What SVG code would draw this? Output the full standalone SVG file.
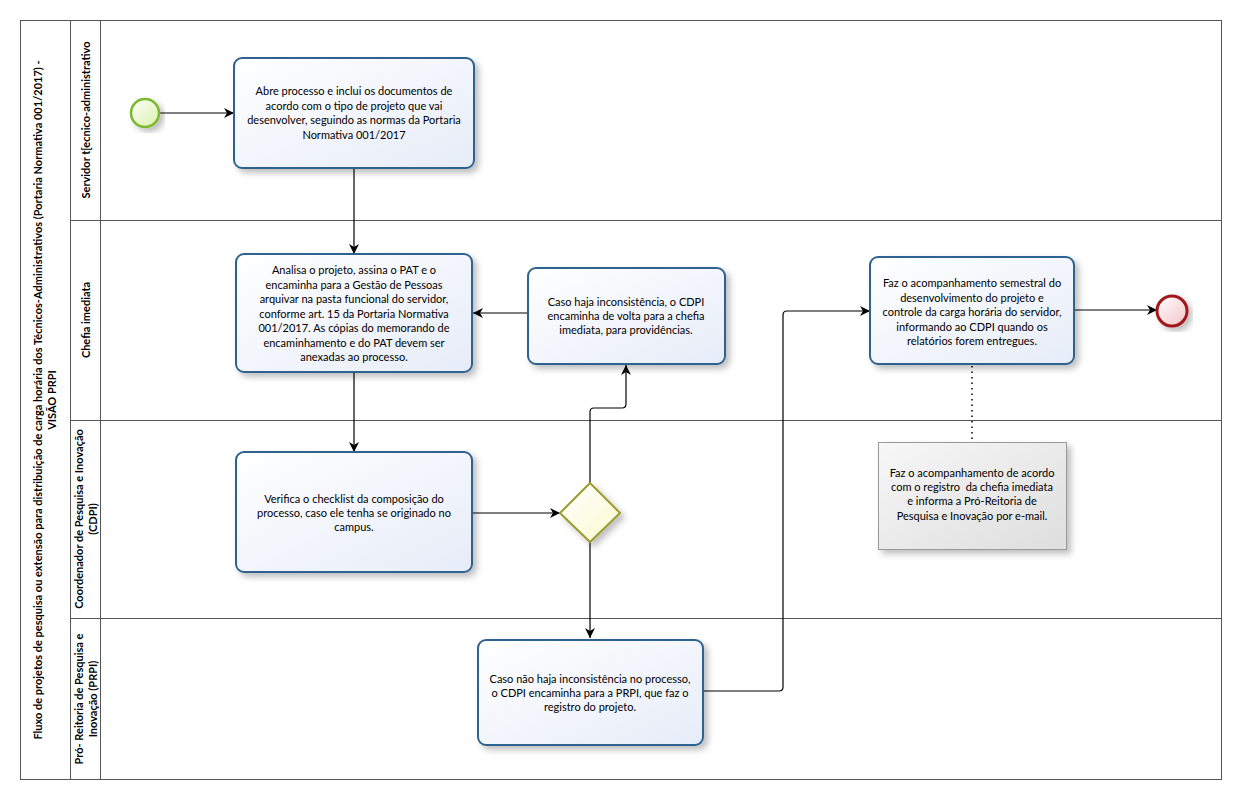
<svg xmlns="http://www.w3.org/2000/svg" width="1242" height="803" viewBox="0 0 1242 803">
<defs>
<linearGradient id="gTask" x1="0" y1="0" x2="1" y2="1"><stop offset="0" stop-color="#ffffff"/><stop offset="1" stop-color="#e6ecf8"/></linearGradient>
<linearGradient id="gStart" x1="0" y1="0" x2="1" y2="1"><stop offset="0" stop-color="#ffffff"/><stop offset="1" stop-color="#d9f0a8"/></linearGradient>
<linearGradient id="gEnd" x1="0" y1="0" x2="1" y2="1"><stop offset="0" stop-color="#ffffff"/><stop offset="1" stop-color="#f2c4c8"/></linearGradient>
<linearGradient id="gGate" x1="0" y1="0" x2="1" y2="1"><stop offset="0" stop-color="#ffffff"/><stop offset="1" stop-color="#fbf9cf"/></linearGradient>
<linearGradient id="gNote" x1="0" y1="0" x2="1" y2="1"><stop offset="0" stop-color="#f7f7f7"/><stop offset="1" stop-color="#dedede"/></linearGradient>
<filter id="sh" x="-10%" y="-10%" width="130%" height="130%"><feDropShadow dx="4" dy="4" stdDeviation="3" flood-color="#000" flood-opacity="0.25"/></filter>
<marker id="arr" viewBox="0 0 10 10" refX="10" refY="5" markerWidth="10" markerHeight="10" markerUnits="userSpaceOnUse" orient="auto"><path d="M0,0 L10,5 L0,10 L3,5 z" fill="#000"/></marker>
</defs>
<style>
.lane{fill:none;stroke:#555;stroke-width:1}
.task{fill:url(#gTask);stroke:#2f6491;stroke-width:2}
.t{font-family:Lato,"Open Sans",sans-serif;font-size:11px;fill:#000;text-anchor:middle}
.h{font-family:Lato,"Liberation Sans",sans-serif;font-size:11px;font-weight:bold;fill:#000;text-anchor:middle}
.c{fill:none;stroke:#000;stroke-width:1.2}
</style>
<rect x="0" y="0" width="1242" height="803" fill="#fff"/>
<g id="pool">
<rect class="lane" x="20.5" y="20.5" width="1201" height="759"/>
<line class="lane" x1="70.5" y1="20.5" x2="70.5" y2="779.5"/>
<line class="lane" x1="100.5" y1="20.5" x2="100.5" y2="779.5"/>
<line class="lane" x1="70.5" y1="220.5" x2="1221.5" y2="220.5"/>
<line class="lane" x1="70.5" y1="420.5" x2="1221.5" y2="420.5"/>
<line class="lane" x1="70.5" y1="618.5" x2="1221.5" y2="618.5"/>
<text class="h" transform="translate(42,400) rotate(-90)">Fluxo de projetos de pesquisa ou extensão para distribuição de carga horária dos Técnicos-Administrativos (Portaria Normativa 001/2017) -</text>
<text class="h" transform="translate(56,400) rotate(-90)">VISÃO PRPI</text>
<text class="h" transform="translate(90,120) rotate(-90)">Servidor t[ecnico-administrativo</text>
<text class="h" transform="translate(90,320) rotate(-90)">Chefia imediata</text>
<text class="h" transform="translate(83,519) rotate(-90)">Coordenador de Pesquisa e Inovação</text>
<text class="h" transform="translate(97,519) rotate(-90)">(CDPI)</text>
<text class="h" transform="translate(83,699) rotate(-90)">Pró- Reitoria de Pesquisa e</text>
<text class="h" transform="translate(97,699) rotate(-90)">Inovação (PRPI)</text>
</g>
<g id="connectors">
<line class="c" x1="160" y1="113" x2="234" y2="113" marker-end="url(#arr)"/>
<line class="c" x1="354" y1="169" x2="354" y2="254" marker-end="url(#arr)"/>
<line class="c" x1="354" y1="373" x2="354" y2="452" marker-end="url(#arr)"/>
<line class="c" x1="528" y1="313" x2="473" y2="313" marker-end="url(#arr)"/>
<line class="c" x1="473" y1="513" x2="560" y2="513" marker-end="url(#arr)"/>
<path class="c" d="M590,483 V412 Q590,408 594,408 H622 Q626,408 626,404 V365" marker-end="url(#arr)"/>
<line class="c" x1="590" y1="542" x2="590" y2="638" marker-end="url(#arr)"/>
<path class="c" d="M704,691 H779 Q783,691 783,687 V315 Q783,311 787,311 H870" marker-end="url(#arr)"/>
<line class="c" x1="1075" y1="310" x2="1157" y2="310" marker-end="url(#arr)"/>
<line x1="972" y1="366" x2="972" y2="441" stroke="#000" stroke-width="1.5" stroke-dasharray="1.5,4"/>
</g>
<g id="start"><circle cx="145" cy="113" r="14" fill="url(#gStart)" stroke="#7cb82f" stroke-width="2.5" filter="url(#sh)"/></g>
<g id="task1">
<rect class="task" x="234" y="58" width="240" height="110" rx="8" filter="url(#sh)"/>
<text class="t" x="354" y="95">Abre processo e inclui os documentos de</text>
<text class="t" x="354" y="109.7">acordo com o tipo de projeto que vai</text>
<text class="t" x="354" y="124.4">desenvolver, seguindo as normas da Portaria</text>
<text class="t" x="354" y="139.1">Normativa 001/2017</text>
</g>
<g id="task2">
<rect class="task" x="236" y="254" width="236" height="118" rx="8" filter="url(#sh)"/>
<text class="t" x="354" y="274">Analisa o projeto, assina o PAT e o</text>
<text class="t" x="354" y="288.5">encaminha para a Gestão de Pessoas</text>
<text class="t" x="354" y="303">arquivar na pasta funcional do servidor,</text>
<text class="t" x="354" y="317.5">conforme art. 15 da Portaria Normativa</text>
<text class="t" x="354" y="332">001/2017. As cópias do memorando de</text>
<text class="t" x="354" y="346.5">encaminhamento e do PAT devem ser</text>
<text class="t" x="354" y="361">anexadas ao processo.</text>
</g>
<g id="task3">
<rect class="task" x="528" y="268" width="197" height="96" rx="8" filter="url(#sh)"/>
<text class="t" x="626" y="306">Caso haja inconsistência, o CDPI</text>
<text class="t" x="626" y="320">encaminha de volta para a chefia</text>
<text class="t" x="626" y="334">imediata, para providências.</text>
</g>
<g id="task4">
<rect class="task" x="236" y="452" width="236" height="120" rx="8" filter="url(#sh)"/>
<text class="t" x="354" y="503">Verifica o checklist da composição do</text>
<text class="t" x="354" y="517">processo, caso ele tenha se originado no</text>
<text class="t" x="354" y="531">campus.</text>
</g>
<g id="gateway">
<polygon points="590,483 620,513 590,542 560,513" fill="url(#gGate)" stroke="#9c9c2e" stroke-width="2" filter="url(#sh)"/>
</g>
<g id="task5">
<rect class="task" x="478" y="640" width="225" height="105" rx="8" filter="url(#sh)"/>
<text class="t" x="590" y="683">Caso não haja inconsistência no processo,</text>
<text class="t" x="590" y="697">o CDPI encaminha para a PRPI, que faz o</text>
<text class="t" x="590" y="711">registro do projeto.</text>
</g>
<g id="task6">
<rect class="task" x="870" y="257" width="204" height="107" rx="8" filter="url(#sh)"/>
<text class="t" x="972" y="287">Faz o acompanhamento semestral do</text>
<text class="t" x="972" y="301.5">desenvolvimento do projeto e</text>
<text class="t" x="972" y="316">controle da carga horária do servidor,</text>
<text class="t" x="972" y="330.5">informando ao CDPI quando os</text>
<text class="t" x="972" y="345">relatórios forem entregues.</text>
</g>
<g id="end"><circle cx="1172" cy="311" r="15" fill="url(#gEnd)" stroke="#a3161d" stroke-width="3" filter="url(#sh)"/></g>
<g id="note">
<rect x="878.5" y="442.5" width="188" height="107" fill="url(#gNote)" stroke="#999" stroke-width="1" filter="url(#sh)"/>
<text class="t" x="972" y="477">Faz o acompanhamento de acordo</text>
<text class="t" x="972" y="491" xml:space="preserve">com o registro  da chefia imediata</text>
<text class="t" x="972" y="505">e informa a Pró-Reitoria de</text>
<text class="t" x="972" y="520">Pesquisa e Inovação por e-mail.</text>
</g>
</svg>
